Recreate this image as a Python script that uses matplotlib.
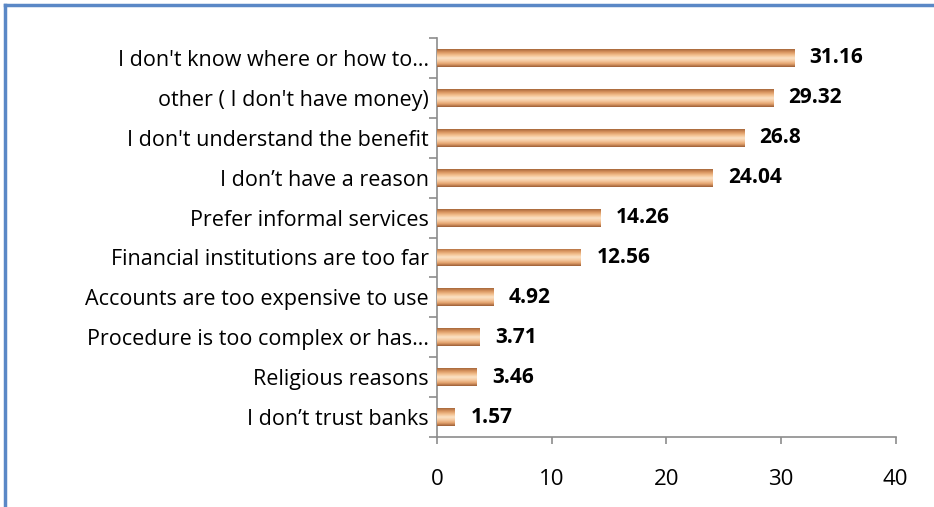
import matplotlib
matplotlib.use("Agg")
import matplotlib.pyplot as plt
import numpy as np
from matplotlib.colors import LinearSegmentedColormap
from matplotlib.lines import Line2D

categories = [
    "I don't know where or how to\u2026",
    "other ( I don't have money)",
    "I don't understand the benefit",
    "I don\u2019t have a reason",
    "Prefer informal services",
    "Financial institutions are too far",
    "Accounts are too expensive to use",
    "Procedure is too complex or has\u2026",
    "Religious reasons",
    "I don\u2019t trust banks",
]
values = [31.16, 29.32, 26.8, 24.04, 14.26, 12.56, 4.92, 3.71, 3.46, 1.57]
value_labels = ["31.16", "29.32", "26.8", "24.04", "14.26", "12.56", "4.92", "3.71", "3.46", "1.57"]
xticks = [0, 10, 20, 30, 40]

plt.rcParams['font.family'] = ['Open Sans', 'DejaVu Sans']

fig = plt.figure(figsize=(9.34, 5.07), dpi=100)
ax = fig.add_axes([0.468, 0.138, 0.491, 0.787])

n = len(categories)
ypos = np.arange(n)
bar_h = 0.45

cmap = LinearSegmentedColormap.from_list(
    "cyl", ["#a8683c", "#d99560", "#f2bf8e", "#fbe2c6", "#f5c9a0", "#e3a26d", "#9c5e36"])
grad = np.linspace(0, 1, 64).reshape(-1, 1)

bars = ax.barh(ypos, values, height=bar_h, color="#eeb27f", edgecolor="none", zorder=2)
for b in bars:
    x0, y0 = b.get_x(), b.get_y()
    w, h = b.get_width(), b.get_height()
    im = ax.imshow(grad, cmap=cmap, aspect="auto", extent=[x0, x0 + w, y0 + h, y0],
                   zorder=3, interpolation="bilinear")
    im.set_clip_path(b)

for y, v, lab in zip(ypos, values, value_labels):
    ax.annotate(lab, (v, y), xytext=(11, 0), textcoords="offset points",
                ha="left", va="center", fontsize=15, fontweight="bold", color="black")

ax.set_xlim(0, 40)
ax.set_ylim(n - 0.5, -0.5)
ax.set_xticks(xticks)
ax.set_xticklabels([str(t) for t in xticks], fontsize=16)
ax.set_yticks(ypos)
ax.set_yticklabels(categories, fontsize=15.5)
ax.set_yticks(np.arange(-0.5, n, 1), minor=True)
ax.tick_params(axis="y", which="major", length=0, pad=6)
ax.tick_params(axis="y", which="minor", length=6, color="#8c8c8c", width=1.2)
ax.tick_params(axis="x", length=5, color="#8c8c8c", width=1.2, pad=18)

for s in ["top", "right"]:
    ax.spines[s].set_visible(False)
for s in ["left", "bottom"]:
    ax.spines[s].set_color("#8c8c8c")
    ax.spines[s].set_linewidth(1.2)

# outer blue frame (left and top visible)
fig.add_artist(Line2D([0.0055, 0.0055], [0, 0.99], transform=fig.transFigure,
                      color="#5a88c6", linewidth=2.5))
fig.add_artist(Line2D([0.0055, 1.0], [0.99, 0.99], transform=fig.transFigure,
                      color="#5a88c6", linewidth=2.5))

fig.savefig("out.png", dpi=100)
